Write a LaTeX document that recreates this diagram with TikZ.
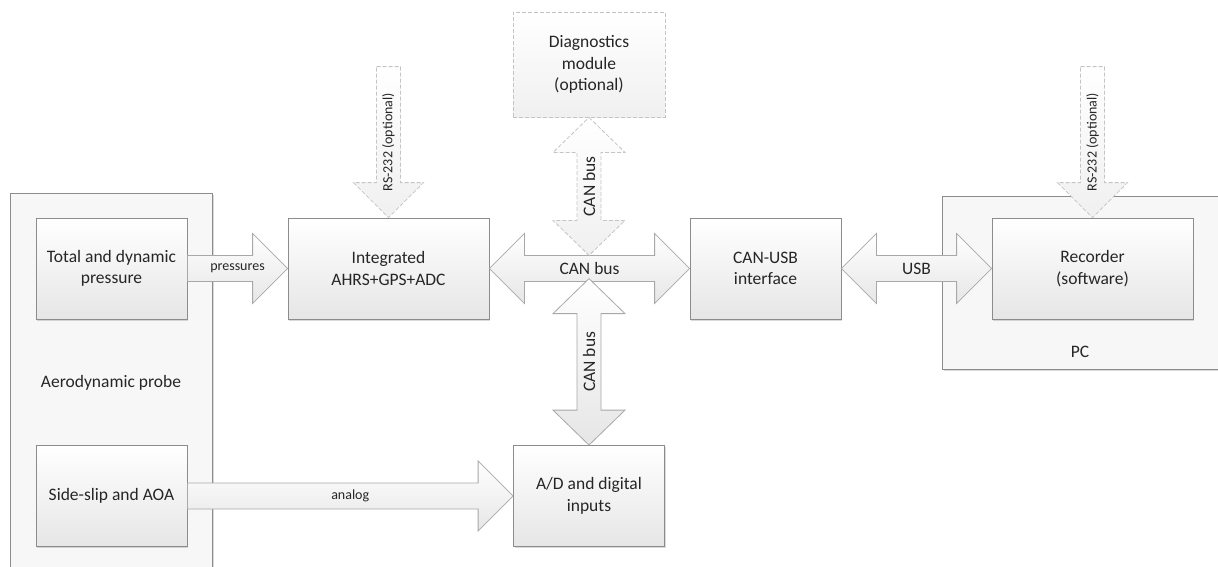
\documentclass[tikz,border=0pt]{standalone}
\usepackage{fontspec}
\setmainfont{Carlito}
\usetikzlibrary{positioning, calc, shadows}

\definecolor{boxline}{HTML}{8C8C8C}
\definecolor{pipeline}{HTML}{A8A8A8}
\definecolor{optline}{HTML}{C4C4C4}
\definecolor{shadebot}{HTML}{E6E6E6}
\definecolor{groupfill}{HTML}{F7F7F7}
\definecolor{ink}{HTML}{262626}

\newcommand{\mainsize}{\fontsize{17.5}{21.5}\selectfont}
\newcommand{\smallsize}{\fontsize{14}{17}\selectfont}

% fat arrow to the right, from #2 to #3
\newcommand{\pipeRight}[4][]{%
  \path[pipe,#1] let \p1=(#2), \p2=(#3) in
    (\x1,\y1+13pt) -- (\x2-35pt,\y1+13pt) -- (\x2-35pt,\y1+35pt) -- (\x2,\y1)
    -- (\x2-35pt,\y1-35pt) -- (\x2-35pt,\y1-13pt) -- (\x1,\y1-13pt) -- cycle
    ({(\x1+\x2)/2},\y1) node {#4};}
% fat arrow with two heads, left-right
\newcommand{\pipeBoth}[4][]{%
  \path[pipe,#1] let \p1=(#2), \p2=(#3) in
    (\x1,\y1) -- (\x1+35pt,\y1+35pt) -- (\x1+35pt,\y1+13pt)
    -- (\x2-35pt,\y1+13pt) -- (\x2-35pt,\y1+35pt) -- (\x2,\y1)
    -- (\x2-35pt,\y1-35pt) -- (\x2-35pt,\y1-13pt)
    -- (\x1+35pt,\y1-13pt) -- (\x1+35pt,\y1-35pt) -- cycle
    ({(\x1+\x2)/2},\y1) node {#4};}
% fat arrow with two heads, up-down
\newcommand{\pipeUpDown}[4][]{%
  \path[pipe,#1] let \p1=(#2), \p2=(#3) in
    (\x2,\y1) -- (\x2+36pt,\y1-35pt) -- (\x2+12pt,\y1-35pt)
    -- (\x2+12pt,\y2+35pt) -- (\x2+36pt,\y2+35pt) -- (\x2,\y2)
    -- (\x2-36pt,\y2+35pt) -- (\x2-12pt,\y2+35pt)
    -- (\x2-12pt,\y1-35pt) -- (\x2-36pt,\y1-35pt) -- cycle
    (\x2,{(\y1+\y2)/2}) node[rotate=90] {#4};}
% fat arrow down, from #2 to #3
\newcommand{\pipeDown}[4][]{%
  \path[pipe,#1] let \p1=(#2), \p2=(#3) in
    (\x2-12pt,\y1) -- (\x2+12pt,\y1) -- (\x2+12pt,\y2+35pt) -- (\x2+35pt,\y2+35pt)
    -- (\x2,\y2) -- (\x2-35pt,\y2+35pt) -- (\x2-12pt,\y2+35pt) -- cycle
    (\x2,{(\y1+\y2)/2}) node[rotate=90] {#4};}

\begin{document}
\begin{tikzpicture}[x=1pt, y=-1pt, on grid, line width=0.8pt,
    every node/.append style={text=ink, font=\mainsize},
    small/.style={every node/.append style={font=\smallsize}},
    box/.style={draw=boxline, top color=white, bottom color=shadebot, align=center,
        minimum width=151pt, minimum height=101pt,
        drop shadow={shadow xshift=1.2pt, shadow yshift=-1.5pt, opacity=.3, fill=black!50}},
    widebox/.style={box, minimum width=201pt},
    optbox/.style={draw=optline, dash pattern=on 4pt off 2pt, top color=white, bottom color=shadebot!60,
        align=center, minimum width=152pt, minimum height=105pt},
    group/.style={draw=boxline, fill=groupfill, anchor=north west,
        drop shadow={shadow xshift=1.2pt, shadow yshift=-1.5pt, opacity=.3, fill=black!50}},
    pipe/.style={draw=pipeline, line join=miter, top color=white, bottom color=shadebot},
    optpipe/.style={draw=optline, dash pattern=on 4pt off 2pt, top color=white, bottom color=shadebot!60}]
    \useasboundingbox (0,0) rectangle (1218,566);

    % containers
    \node[group, minimum width=202pt, minimum height=420pt] (probe) at (10,193) {};
    \node[group, minimum width=300pt, minimum height=173pt] (pc) at (942,196) {};
    \node (probelabel) at (111,383) {Aerodynamic probe};
    \node (pclabel) at (1080,352) {PC};

    % blocks
    \node[box] (pressure) at (111.5,268.5) {Total and dynamic\\pressure};
    \node[widebox] (ahrs) [right=277pt of pressure] {Integrated\\AHRS+GPS+ADC};
    \node[box] (canusb) [right=377pt of ahrs] {CAN-USB\\interface};
    \node[widebox] (recorder) [right=327pt of canusb] {Recorder\\(software)};
    \node[box] (slip) [below=227.5pt of pressure] {Side-slip and AOA};
    \node[box] (adc) [right=477.5pt of slip] {A/D and digital\\inputs};
    \node[optbox] (diag) [above=431.5pt of adc] {Diagnostics\\module\\(optional)};

    \coordinate[above=151pt of ahrs.north] (rsleft);
    \coordinate[above=151pt of recorder.north] (rsright);
    \coordinate[below=138pt of diag.south] (bustop);
    \coordinate[above=166.5pt of adc.north] (busbot);

    % links
    \pipeRight[small]{pressure.east}{ahrs.west}{pressures}
    \pipeRight[small]{slip.east}{adc.west}{analog}
    \pipeBoth{ahrs.east}{canusb.west}{CAN bus}
    \pipeBoth{canusb.east}{recorder.west}{USB}
    \pipeUpDown[optpipe]{diag.south}{bustop}{CAN bus}
    \pipeUpDown{busbot}{adc.north}{CAN bus}
    \pipeDown[optpipe, small]{rsleft}{ahrs.north}{RS-232 (optional)}
    \pipeDown[optpipe, small]{rsright}{recorder.north}{RS-232 (optional)}
\end{tikzpicture}
\end{document}
